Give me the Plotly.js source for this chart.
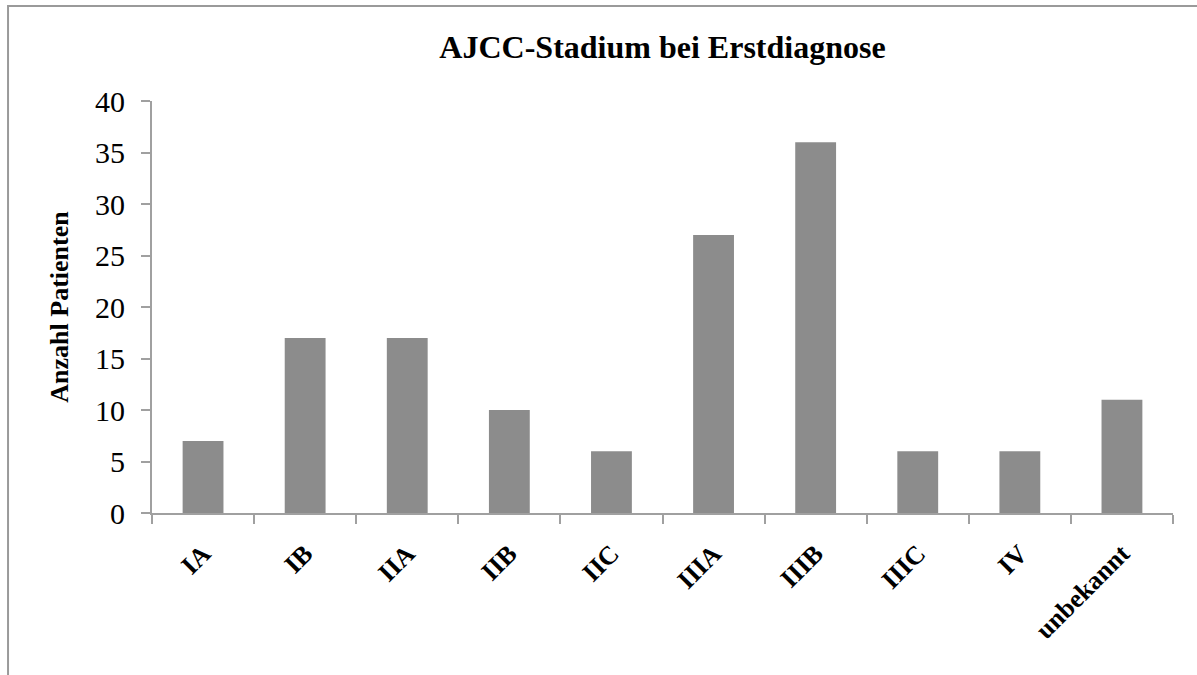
<!DOCTYPE html>
<html>
<head>
<meta charset="utf-8">
<script src="https://cdn.plot.ly/plotly-3.0.1.min.js"></script>
<style>html,body{margin:0;padding:0;background:#fff;}#chart{width:1197px;height:675px;}</style>
</head>
<body>
<div id="chart"></div>
<script>
const categories = ["IA", "IB", "IIA", "IIB", "IIC", "IIIA", "IIIB", "IIIC", "IV", "unbekannt"];
const patients = [7, 17, 17, 10, 6, 27, 36, 6, 6, 11];
const yTicks = [0, 5, 10, 15, 20, 25, 30, 35, 40];

const serif = "Times New Roman, Liberation Serif, serif";

const data = [{
  type: "bar",
  x: categories,
  y: patients,
  marker: {color: "#8c8c8c", line: {width: 0}},
  hoverinfo: "skip"
}];

const layout = {
  width: 1197,
  height: 675,
  margin: {l: 152, r: 24, t: 101, b: 162},
  paper_bgcolor: "#ffffff",
  plot_bgcolor: "#ffffff",
  bargap: 0.6,
  showlegend: false,
  title: {
    text: "<b>AJCC-Stadium bei Erstdiagnose</b>",
    font: {family: serif, size: 32, color: "#000"},
    x: 0.5, xref: "paper", xanchor: "center",
    y: 0.93, yref: "container", yanchor: "middle"
  },
  xaxis: {
    type: "category",
    showline: true, linecolor: "#a0a0a0", linewidth: 2,
    ticks: "outside", tickson: "boundaries", ticklen: 9, tickcolor: "#a0a0a0", tickwidth: 2,
    tickangle: -45,
    ticklabelstandoff: 13,
    tickfont: {family: serif, size: 26, color: "#000", weight: "bold"},
    showgrid: false, zeroline: false
  },
  yaxis: {
    range: [0, 40],
    tickvals: yTicks,
    ticktext: yTicks.map(String),
    showline: true, linecolor: "#a0a0a0", linewidth: 2,
    ticks: "outside", ticklen: 9, tickcolor: "#a0a0a0", tickwidth: 2,
    ticklabelstandoff: 10,
    tickfont: {family: serif, size: 30, color: "#000"},
    showgrid: false, zeroline: false,
    title: {
      text: "<b>Anzahl Patienten</b>",
      font: {family: serif, size: 26, color: "#000"},
      standoff: 19
    }
  },
  shapes: [{
    type: "rect", xref: "paper", yref: "paper",
    x0: -0.141, x1: 1.2, y0: -0.6, y1: 1.2306,
    line: {color: "#9a9a9a", width: 2},
    fillcolor: "rgba(0,0,0,0)", layer: "below"
  }]
};

Plotly.newPlot("chart", data, layout, {displayModeBar: false, staticPlot: true});
</script>
</body>
</html>
